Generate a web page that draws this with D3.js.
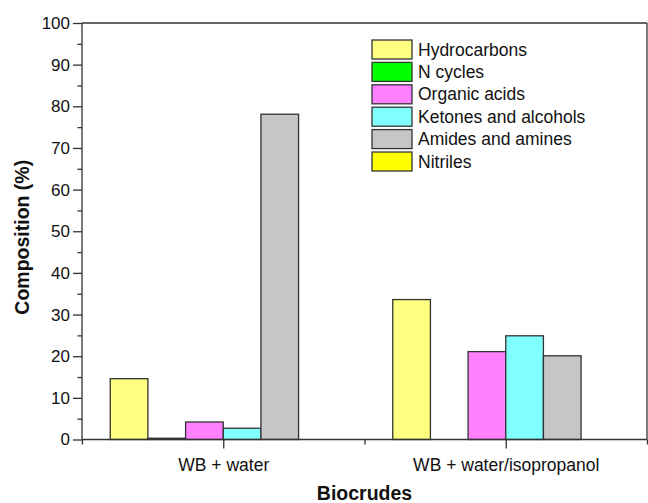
<!DOCTYPE html>
<html>
<head>
<meta charset="utf-8">
<script src="https://cdn.jsdelivr.net/npm/d3@7"></script>
<style>
  html, body { margin: 0; padding: 0; background: #fff; }
  svg { display: block; font-family: Arial, "Liberation Sans", Helvetica, sans-serif; }
</style>
</head>
<body>
<svg id="chart" width="648" height="503"></svg>
<script>
// Biocrude composition by compound class (%)
const groups = ["WB + water", "WB + water/isopropanol"];
const seriesNames = ["Hydrocarbons", "N cycles", "Organic acids", "Ketones and alcohols", "Amides and amines", "Nitriles"];
const seriesColors = ["#ffff80", "#00ff00", "#ff80ff", "#80ffff", "#c6c6c6", "#ffff00"];
const hydrocarbons = [14.6, 33.6];
const nCycles = [0.3, 0];
const organicAcids = [4.2, 21.1];
const ketonesAlcohols = [2.7, 24.9];
const amidesAmines = [78.1, 20.1];
const nitriles = [0, 0];
const yTicks = [0, 10, 20, 30, 40, 50, 60, 70, 80, 90, 100];

const seriesValues = [hydrocarbons, nCycles, organicAcids, ketonesAlcohols, amidesAmines, nitriles];

const W = 648, H = 503;
const margin = { left: 82, right: 1, top: 23, bottom: 63.5 };
const svg = d3.select("#chart");

const x = d3.scaleLinear().domain([0.5, groups.length + 0.5]).range([margin.left, W - margin.right]);
const y = d3.scaleLinear().domain([0, 100]).range([H - margin.bottom, margin.top]);

const groupWidth = 0.8;
const barW = groupWidth / seriesNames.length;

// bars
const bars = [];
groups.forEach((g, gi) => {
  seriesNames.forEach((s, si) => {
    const v = seriesValues[si][gi];
    if (v > 0) {
      const x0 = gi + 1 - groupWidth / 2 + si * barW;
      bars.push({ x0, x1: x0 + barW, v, color: seriesColors[si] });
    }
  });
});

svg.append("g").selectAll("rect").data(bars).join("rect")
  .attr("x", d => x(d.x0))
  .attr("width", d => x(d.x1) - x(d.x0))
  .attr("y", d => y(d.v))
  .attr("height", d => y(0) - y(d.v))
  .attr("fill", d => d.color)
  .attr("stroke", "#333")
  .attr("stroke-width", 1.3);

// frame (top and right)
const frame = svg.append("g").attr("stroke", "#333").attr("stroke-width", 1.3);
frame.append("line").attr("x1", x(0.5)).attr("x2", x(2.5)).attr("y1", y(100)).attr("y2", y(100));
frame.append("line").attr("x1", x(2.5)).attr("x2", x(2.5)).attr("y1", y(100)).attr("y2", y(0));

// y axis: major and minor ticks
const yMinor = d3.range(5, 100, 10);
const yAxisMinor = d3.axisLeft(y).tickValues(yMinor).tickSize(4.5).tickFormat("");
const yAxis = d3.axisLeft(y).tickValues(yTicks).tickSize(9).tickPadding(3).tickFormat(d3.format("d"));
const gyMinor = svg.append("g").attr("transform", `translate(${margin.left},0)`).call(yAxisMinor);
const gy = svg.append("g").attr("transform", `translate(${margin.left},0)`).call(yAxis);

// x axis: category ticks long, boundary ticks short
const xMinor = d3.range(0.5, groups.length + 1, 1);
const xAxisMinor = d3.axisBottom(x).tickValues(xMinor).tickSize(5).tickFormat("");
const xAxis = d3.axisBottom(x).tickValues(groups.map((g, i) => i + 1)).tickSize(9).tickPadding(10)
  .tickFormat((d) => groups[d - 1]);
const gxMinor = svg.append("g").attr("transform", `translate(0,${y(0)})`).call(xAxisMinor);
const gx = svg.append("g").attr("transform", `translate(0,${y(0)})`).call(xAxis);

[gy, gyMinor, gx, gxMinor].forEach(g => {
  g.selectAll("line").attr("stroke", "#333").attr("stroke-width", 1.3);
  g.select(".domain").remove();
});
gy.append("line").attr("x1", 0).attr("x2", 0).attr("y1", y(0)).attr("y2", y(100)).attr("stroke", "#333").attr("stroke-width", 1.3);
gx.append("line").attr("x1", x(0.5)).attr("x2", x(2.5)).attr("y1", 0).attr("y2", 0).attr("stroke", "#333").attr("stroke-width", 1.3);

gy.selectAll("text").attr("font-size", 17).attr("fill", "#111").attr("font-family", "Arial, 'Liberation Sans', sans-serif");
gx.selectAll("text").attr("font-size", 17.5).attr("fill", "#111").attr("font-family", "Arial, 'Liberation Sans', sans-serif");

// axis titles
svg.append("text")
  .attr("transform", `translate(29,${(y(0) + y(100)) / 2 + 6}) rotate(-90)`)
  .attr("text-anchor", "middle")
  .attr("font-size", 19.5).attr("font-weight", "bold").attr("fill", "#111")
  .text("Composition (%)");

svg.append("text")
  .attr("x", (x(0.5) + x(2.5)) / 2).attr("y", 500)
  .attr("text-anchor", "middle")
  .attr("font-size", 19.5).attr("font-weight", "bold").attr("fill", "#111")
  .text("Biocrudes");

// legend
const legend = svg.append("g").attr("transform", "translate(372,40)");
const rowH = 22.4;
const items = legend.selectAll("g").data(seriesNames).join("g")
  .attr("transform", (d, i) => `translate(0,${i * rowH})`);
items.append("rect").attr("width", 40).attr("height", 19)
  .attr("fill", (d, i) => seriesColors[i]).attr("stroke", "#333").attr("stroke-width", 1.3);
items.append("text").attr("x", 46).attr("y", 9.5).attr("dy", "0.35em")
  .attr("font-size", 17.5).attr("fill", "#111").text(d => d);
</script>
</body>
</html>
